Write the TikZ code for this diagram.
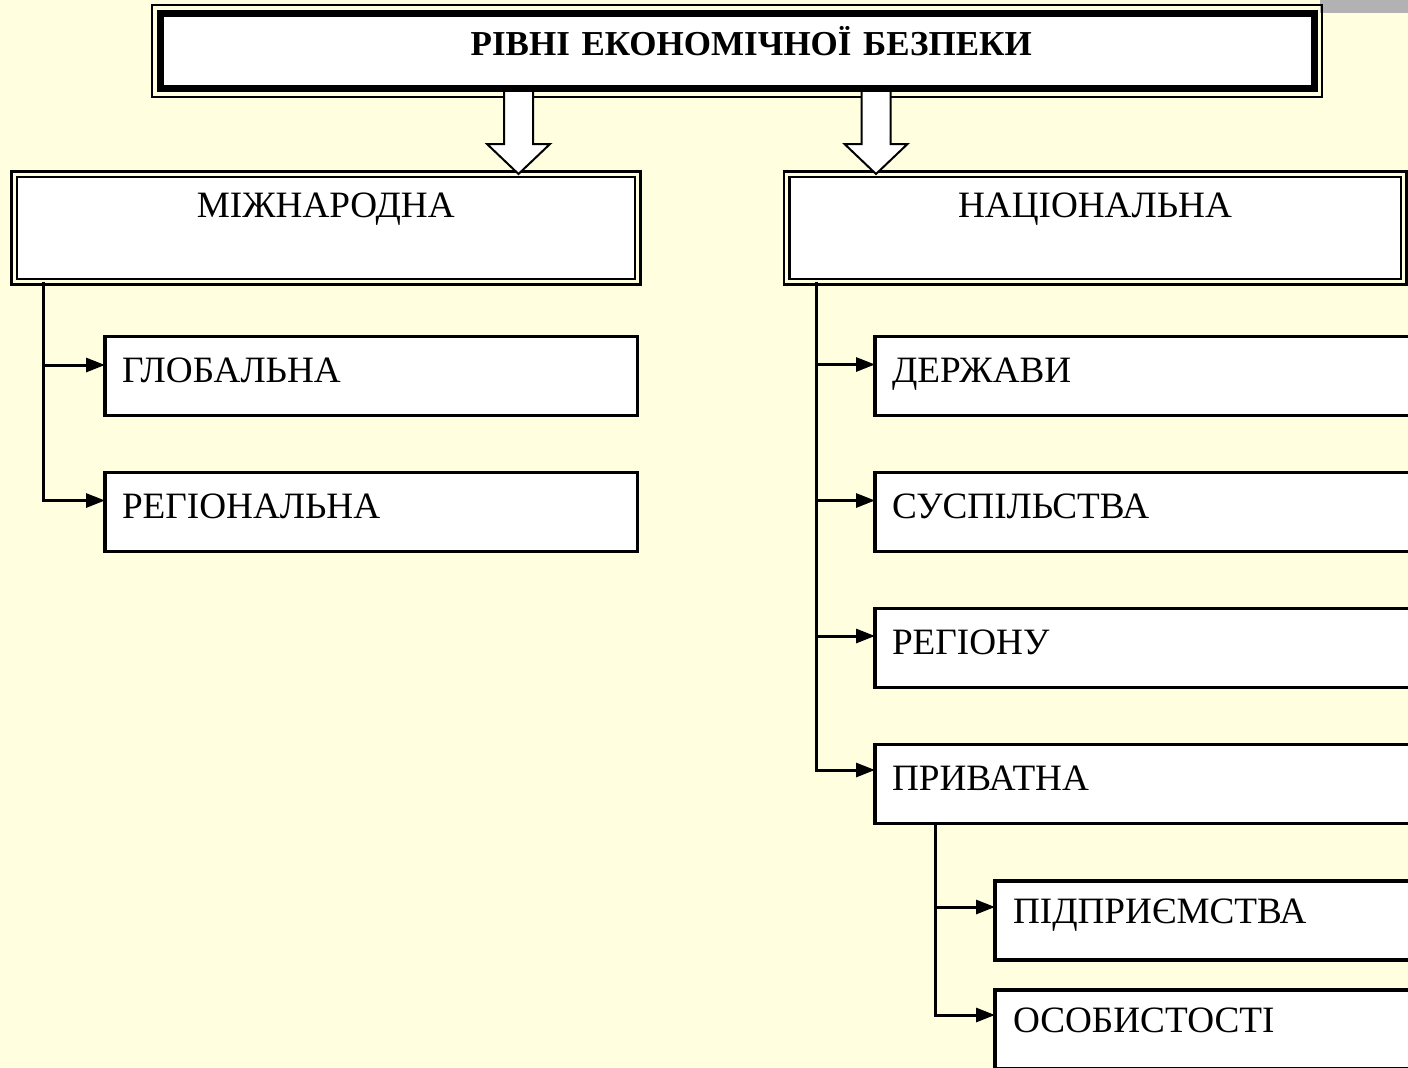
\documentclass[tikz,border=0pt]{standalone}
\usepackage{fontspec}
\setmainfont{Liberation Serif}
\usetikzlibrary{arrows.meta,calc}
\definecolor{bg}{HTML}{FFFFE0}
\definecolor{band}{HTML}{B2B2B2}
\begin{document}
\begin{tikzpicture}[x=0.5pt,y=-0.5pt,
  every node/.style={outer sep=0pt, font=\fontsize{18.6pt}{22pt}\selectfont},
  titlebox/.style={draw, line width=3.5pt, fill=white, anchor=north west,
    inner xsep=0pt, inner ysep=0pt, text width=577.25pt, align=center,
    text height=20.75pt, text depth=16.75pt, font=\fontsize{17.5pt}{21pt}\selectfont\bfseries},
  topbox/.style={draw, line width=1.25pt, double=bg, double distance=1.5pt,
    fill=white, anchor=north west, inner xsep=0pt, inner ysep=0pt, align=center,
    text height=21.5pt, text depth=32.25pt},
  lvlbox/.style={draw, line width=1.6pt, fill=white, anchor=north west,
    inner xsep=8.5pt, inner ysep=0pt, align=left,
    text height=22.75pt, text depth=16.75pt},
  subbox/.style={draw, line width=1.6pt, fill=white, anchor=north west,
    inner xsep=9pt, inner ysep=0pt, align=left,
    text height=21pt, text depth=18.5pt},
  conn/.style={line width=1.5pt, -{Triangle[length=9.5pt,width=7pt]}},
  hollow/.style={draw, line width=1pt, fill=white, line join=miter}]
\clip (0,0) rectangle (1408,1067);
\fill[bg] (0,0) rectangle (1408,1067);
\fill[band] (1320,0) rectangle (1408,13);

% title
\node[titlebox] (title) at (160,13.5) {\hspace*{14pt}РІВНІ ЕКОНОМІЧНОЇ БЕЗПЕКИ};
\draw[line width=1pt] ([shift={(-4pt,4.25pt)}]title.north west) rectangle ([shift={(3.75pt,-4.25pt)}]title.south east);

% second level
\node[topbox, text width=311.75pt] (mizh) at (14,174) {МІЖНАРОДНА};
\node[topbox, text width=308.5pt] (nat) at (786.5,174) {НАЦІОНАЛЬНА};

% hollow arrows
\coordinate (h1) at ([yshift=-1.75pt]title.south -| 518.5,0);
\coordinate (h2) at ([yshift=-1.75pt]title.south -| 876,0);
\coordinate (t1) at (mizh.north -| h1);
\coordinate (t2) at (nat.north -| h2);
\draw[hollow] ($(h1)+(-14.5,0)$) -- ($(t1)+(-14.5,-30)$) -- ($(t1)+(-31.5,-30)$) -- (t1)
  -- ($(t1)+(31.5,-30)$) -- ($(t1)+(14.5,-30)$) -- ($(h1)+(14.5,0)$);
\draw[hollow] ($(h2)+(-14.5,0)$) -- ($(t2)+(-14.5,-30)$) -- ($(t2)+(-31.5,-30)$) -- (t2)
  -- ($(t2)+(31.5,-30)$) -- ($(t2)+(14.5,-30)$) -- ($(h2)+(14.5,0)$);

% left column
\node[lvlbox, text width=249.25pt] (glob) at (105,336.5) {ГЛОБАЛЬНА};
\node[lvlbox, text width=249.25pt] (reg) at (105,472.5) {РЕГІОНАЛЬНА};

% right column
\node[lvlbox, text width=255.5pt] (derzh) at (875,336.5) {ДЕРЖАВИ};
\node[lvlbox, text width=255.5pt] (susp) at (875,472.5) {СУСПІЛЬСТВА};
\node[lvlbox, text width=255.5pt] (regn) at (875,608.5) {РЕГІОНУ};
\node[lvlbox, text width=255.5pt] (priv) at (875,744.5) {ПРИВАТНА};

% sub boxes
\node[subbox, text width=194.5pt] (pidp) at (995,881) {ПІДПРИЄМСТВА};
\node[subbox, text width=194.5pt] (osob) at (995,990) {ОСОБИСТОСТІ};

% connectors left
\coordinate (tl) at ([xshift=14.5pt]mizh.south west);
\coordinate (g1) at ([yshift=-14.25pt]glob.north west);
\coordinate (g2) at ([yshift=-14pt]reg.north west);
\draw[conn] (tl) |- (g2);
\draw[conn] (tl |- g1) -- (g1);

% connectors right
\coordinate (tr) at ([xshift=14.75pt]nat.south west);
\coordinate (d1) at ([yshift=-14pt]derzh.north west);
\coordinate (d2) at ([yshift=-14pt]susp.north west);
\coordinate (d3) at ([yshift=-13.75pt]regn.north west);
\coordinate (d4) at ([yshift=-12.75pt]priv.north west);
\draw[conn] (tr) |- (d4);
\draw[conn] (tr |- d1) -- (d1);
\draw[conn] (tr |- d2) -- (d2);
\draw[conn] (tr |- d3) -- (d3);

% connectors sub
\coordinate (ts) at ([xshift=30pt]priv.south west);
\coordinate (s1) at ([yshift=-13pt]pidp.north west);
\coordinate (s2) at ([yshift=-12.5pt]osob.north west);
\draw[conn] (ts) |- (s2);
\draw[conn] (ts |- s1) -- (s1);
\end{tikzpicture}
\end{document}
